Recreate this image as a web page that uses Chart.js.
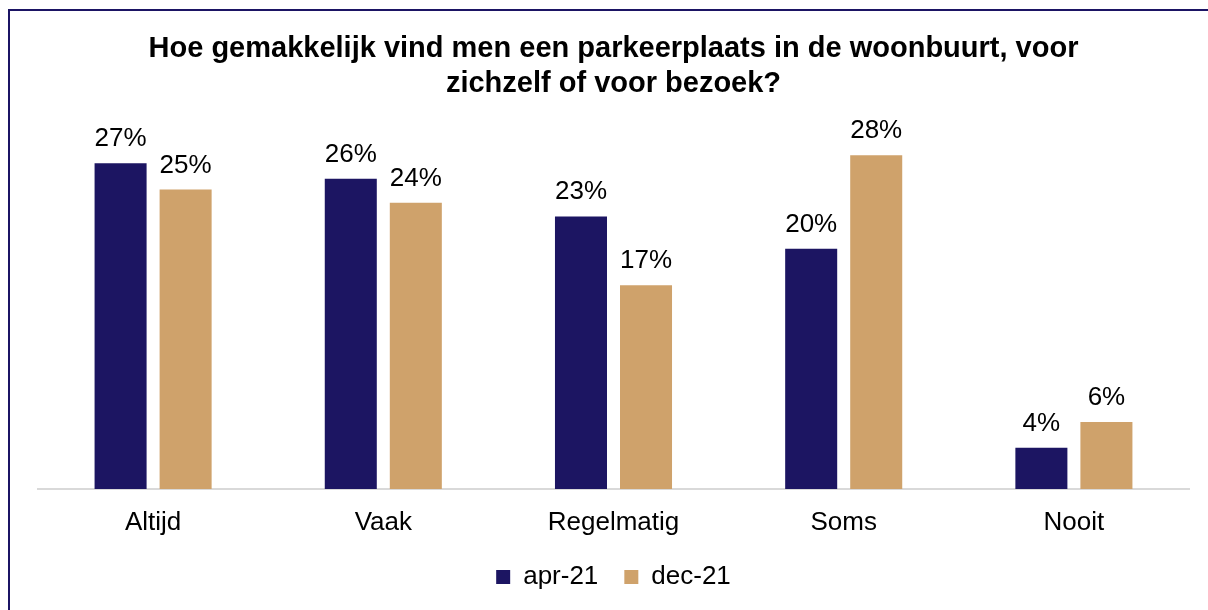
<!DOCTYPE html>
<html>
<head>
<meta charset="utf-8">
<script src="https://cdn.jsdelivr.net/npm/chart.js@4/dist/chart.umd.min.js"></script>
<style>
  html, body { margin: 0; padding: 0; background: #fff; overflow: hidden; width: 1208px; height: 610px; }
  #frame { position: absolute; left: 8px; top: 9px; width: 1230px; height: 640px; border: 2px solid #1B1464; box-sizing: border-box; background: #fff; }
  #wrap { position: absolute; left: 10px; top: 11px; width: 1208px; height: 599px; }
</style>
</head>
<body>
<div id="frame"></div>
<div id="wrap"><canvas id="c" width="1208" height="599"></canvas></div>
<script>
const titleLines = ['Hoe gemakkelijk vind men een parkeerplaats in de woonbuurt, voor', 'zichzelf of voor bezoek?'];
const categories = ['Altijd', 'Vaak', 'Regelmatig', 'Soms', 'Nooit'];
const seriesNames = ['apr-21', 'dec-21'];
const apr21 = [27.2, 25.9, 22.75, 20.05, 3.45];
const dec21 = [25.0, 23.9, 17.0, 27.85, 5.6];
const apr21Labels = ['27%', '26%', '23%', '20%', '4%'];
const dec21Labels = ['25%', '24%', '17%', '28%', '6%'];
const colors = ['#1C1562', '#CFA26B'];

const FONT = "'Liberation Sans', Arial, sans-serif";

const valueLabels = {
  id: 'valueLabels',
  afterDatasetsDraw(chart) {
    const ctx = chart.ctx;
    const texts = [apr21Labels, dec21Labels];
    ctx.save();
    ctx.font = '26px ' + FONT;
    ctx.fillStyle = '#000';
    ctx.textAlign = 'center';
    ctx.textBaseline = 'alphabetic';
    chart.data.datasets.forEach((ds, di) => {
      const meta = chart.getDatasetMeta(di);
      meta.data.forEach((bar, i) => {
        ctx.fillText(texts[di][i], bar.x, bar.y - 17);
      });
    });
    ctx.restore();
  }
};

new Chart(document.getElementById('c'), {
  type: 'bar',
  data: {
    labels: categories,
    datasets: [
      { label: seriesNames[0], data: apr21, backgroundColor: colors[0], borderWidth: 0 },
      { label: seriesNames[1], data: dec21, backgroundColor: colors[1], borderWidth: 0 }
    ]
  },
  options: {
    responsive: false,
    animation: false,
    devicePixelRatio: 1,
    datasets: { bar: { categoryPercentage: 0.565, barPercentage: 0.8 } },
    layout: { padding: { left: 28, right: 29, top: 0, bottom: 10 } },
    plugins: {
      title: {
        display: true,
        text: titleLines,
        color: '#000',
        font: { family: FONT, size: 29, weight: 'bold', lineHeight: 1.2 },
        padding: { top: 21, bottom: 28 }
      },
      legend: {
        display: true,
        position: 'bottom',
        labels: {
          color: '#000',
          font: { family: FONT, size: 26 },
          boxWidth: 14,
          boxHeight: 14,
          padding: 26
        }
      },
      tooltip: { enabled: false }
    },
    scales: {
      x: {
        grid: { display: false, drawTicks: false },
        border: { display: true, color: '#D9D9D9', width: 2 },
        ticks: { color: '#000', font: { family: FONT, size: 26 }, padding: 18 },
        afterFit(scale) { scale.height = 49; }
      },
      y: {
        display: false,
        min: 0,
        max: 30
      }
    }
  },
  plugins: [valueLabels]
});
</script>
</body>
</html>
